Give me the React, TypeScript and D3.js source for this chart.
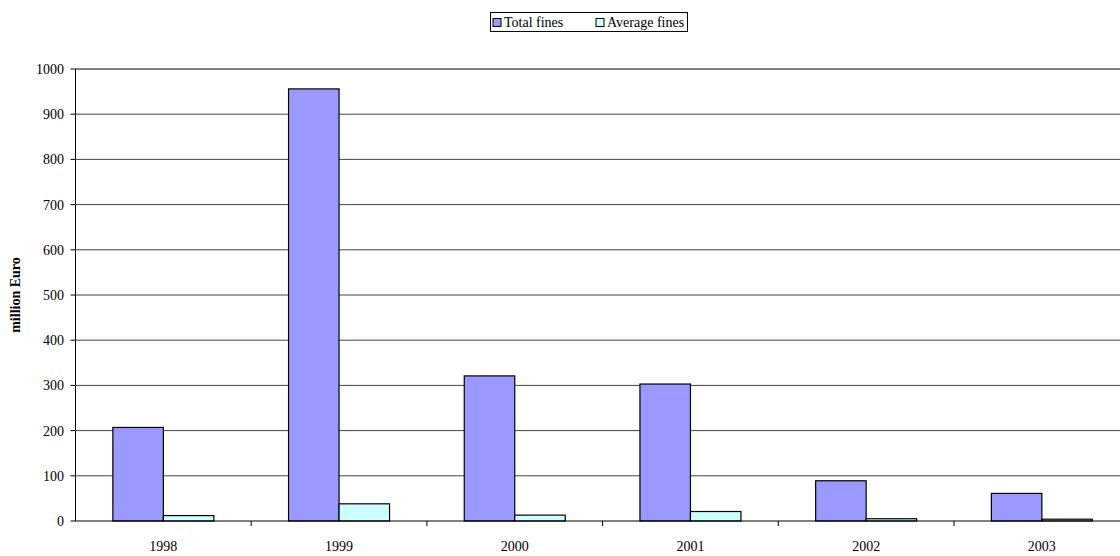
import React from "react";
import * as d3 from "d3";

const years = ["1998", "1999", "2000", "2001", "2002", "2003"];
const totalFines = [207, 956, 321, 303, 89, 61];
const averageFines = [12, 38, 13, 21, 5, 4];
const yTicks = [0, 100, 200, 300, 400, 500, 600, 700, 800, 900, 1000];
const seriesNames = ["Total fines", "Average fines"];
const seriesColors = ["#9999FF", "#CCFFFF"];

export default function App() {
  const W = 1120, H = 556;
  const left = 75.5, top = 69, bottom = 521;
  const bandW = 175.7;
  const x = d3.scaleBand<string>().domain(years).range([left, left + bandW * years.length]).paddingInner(0).paddingOuter(0);
  const y = d3.scaleLinear().domain([0, 1000]).range([bottom, top]);
  const barW = 50.5;
  const font = "'Liberation Serif', 'Times New Roman', serif";
  const series = [totalFines, averageFines];
  const legendX = [493, 596];
  return (
    <svg width={W} height={H} style={{ position: "absolute", left: 0, top: 0, fontFamily: font }}>
      <rect width={W} height={H} fill="#fff" />
      {yTicks.map((t) => (
        <g key={t}>
          {t > 0 && (
            <line x1={left} x2={W} y1={y(t)} y2={y(t)} stroke={t === 1000 ? "#000" : "#444"} strokeWidth={1} />
          )}
          <line x1={left - 5} x2={left} y1={y(t)} y2={y(t)} stroke="#000" />
          <text x={64} y={y(t)} dy="0.35em" textAnchor="end" fontSize={14}>{t}</text>
        </g>
      ))}
      {years.map((yr, i) =>
        series.map((s, k) => {
          const cx = x(yr)! + x.bandwidth() / 2;
          const x0 = cx - barW + k * barW;
          return (
            <rect key={yr + k} x={x0} y={y(s[i])} width={barW} height={bottom - y(s[i])}
              fill={seriesColors[k]} stroke="#000" strokeWidth={1.2} />
          );
        })
      )}
      <line x1={left} x2={left} y1={top} y2={bottom} stroke="#000" />
      <line x1={left} x2={W} y1={bottom} y2={bottom} stroke="#000" />
      {years.map((yr, i) => (
        <g key={yr}>
          {i > 0 && <line x1={x(yr)} x2={x(yr)} y1={bottom} y2={bottom + 5} stroke="#000" />}
          <text x={x(yr)! + x.bandwidth() / 2} y={551} textAnchor="middle" fontSize={14}>{yr}</text>
        </g>
      ))}
      <text transform={`translate(20,${(top + bottom) / 2}) rotate(-90)`} textAnchor="middle" fontSize={14} fontWeight="bold">million Euro</text>
      <rect x={490.5} y={12.5} width={197} height={19} fill="#fff" stroke="#000" />
      {seriesNames.map((n, k) => (
        <g key={n}>
          <rect x={legendX[k]} y={18.5} width={8} height={8} fill={seriesColors[k]} stroke="#000" />
          <text x={legendX[k] + 11} y={27} fontSize={14}>{n}</text>
        </g>
      ))}
    </svg>
  );
}
